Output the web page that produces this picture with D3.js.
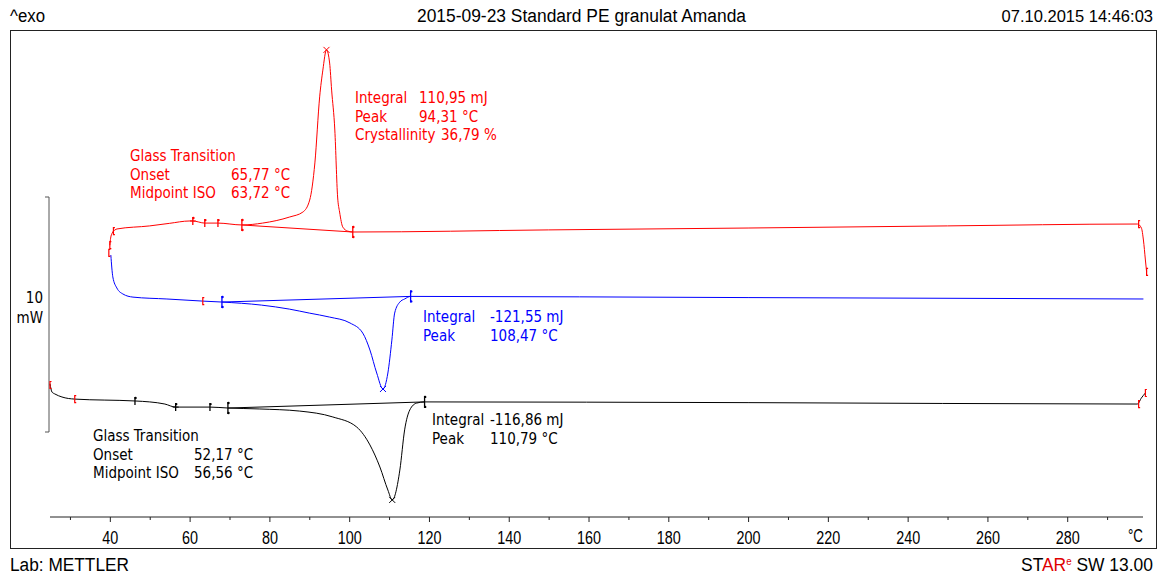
<!DOCTYPE html>
<html>
<head>
<meta charset="utf-8">
<script src="https://cdn.jsdelivr.net/npm/d3@7"></script>
<style>
  html, body { margin: 0; padding: 0; background: #fff; }
  svg { display: block; }
  .ann { font-family: "DejaVu Sans Condensed", "DejaVu Sans", sans-serif; font-stretch: condensed; font-size: 15px; }
  .hdr { font-family: "Liberation Sans", Arial, sans-serif; font-size: 18px; }
</style>
</head>
<body>
<svg id="chart" width="1160" height="575"></svg>
<script>
// Temperature (°C) and heat flow (mW, stacked display offset) for the three DSC segments
const redT  = [40.0, 40.2, 40.6, 41.3, 41.8, 50.0, 55.0, 60.0, 60.8, 63.8, 67.1, 73.1, 78.3, 85.1, 88.4, 90.1, 91.4, 92.6, 93.4, 94.31, 95.1, 95.6, 96.4, 97.1, 97.6, 98.4, 99.6, 100.9, 150, 200, 250, 297.6, 298.6, 299.1, 299.6, 299.9];
const redHF = [7.95, 8.25, 8.47, 8.60, 8.64, 8.77, 8.88, 8.98, 8.98, 8.89, 8.89, 8.81, 8.89, 9.15, 9.36, 9.87, 11.45, 14.26, 15.40, 16.26, 15.70, 14.55, 12.85, 10.00, 9.36, 8.72, 8.55, 8.51, 8.60, 8.68, 8.77, 8.85, 8.68, 8.17, 7.32, 6.81];

const blueT  = [40.25, 40.75, 41.75, 43.3, 45.8, 54.3, 63.3, 68.1, 78.0, 85.0, 90.0, 95.1, 100.2, 103.4, 105.2, 106.9, 108.47, 109.7, 110.7, 111.4, 112.7, 113.9, 115.4, 200, 299.1];
const blueHF = [7.53, 6.60, 6.13, 5.87, 5.74, 5.66, 5.57, 5.53, 5.40, 5.23, 5.06, 4.89, 4.64, 4.21, 3.49, 2.51, 1.83, 2.51, 3.91, 5.06, 5.53, 5.66, 5.77, 5.72, 5.66];

const blackT  = [25.0, 25.5, 26.2, 28.0, 31.2, 46.3, 50.0, 53.8, 56.5, 65.1, 69.6, 77.6, 87.6, 95.9, 101.9, 105.2, 107.7, 109.7, 110.79, 112.7, 113.9, 115.2, 116.9, 118.9, 200, 297.6, 298.6, 299.6];
const blackHF = [2.05, 1.70, 1.62, 1.49, 1.40, 1.32, 1.28, 1.19, 1.06, 1.06, 1.02, 0.98, 0.89, 0.64, 0.21, -0.55, -1.49, -2.47, -2.89, -1.62, 0.09, 0.94, 1.23, 1.28, 1.25, 1.19, 1.45, 1.66];

// Integration baselines [T start, T end] / [HF start, HF end]
const redBaseT = [73.1, 100.9],  redBaseHF = [8.81, 8.51];
const blueBaseT = [68.1, 115.4], blueBaseHF = [5.53, 5.77];
const blackBaseT = [69.6, 118.9], blackBaseHF = [1.02, 1.28];

// Evaluation markers on the curves
const redTicks = [[60.8, 8.98, 1], [63.8, 8.89, 0], [67.1, 8.89, 0], [73.1, 8.81, 2], [100.9, 8.51, 2]];
const blueTicks = [[68.1, 5.53, 2], [115.4, 5.77, 2]];
const blackTicks = [[46.3, 1.32, 0], [56.5, 1.06, 1], [65.1, 1.06, 0], [69.6, 1.02, 2], [118.9, 1.28, 2]];
// Segment limit brackets (always red)
const limitMarks = [[40.0, 7.95], [40.9, 8.55], [39.75, 7.62], [63.3, 5.57], [25.0, 2.0], [31.2, 1.40], [297.9, 8.85], [299.9, 6.81], [297.9, 1.19], [299.6, 1.66]];
// Peak markers
const peaks = [[94.31, 16.26, "red"], [108.47, 1.83, "blue"], [110.79, -2.89, "black"]];

// Axis tick labels
const majorTicks = [40, 60, 80, 100, 120, 140, 160, 180, 200, 220, 240, 260, 280];
const minorTicks = [30, 50, 70, 90, 110, 130, 150, 170, 190, 210, 230, 250, 270, 290];

const svg = d3.select("#chart");
const x = d3.scaleLinear().domain([25, 300]).range([50, 1147]);
const y = d3.scaleLinear().domain([0, 10]).range([432, 197]);

// Outer frame
svg.append("rect").attr("x", 10.5).attr("y", 30.5).attr("width", 1146).attr("height", 518)
  .attr("fill", "none").attr("stroke", "#222").attr("stroke-width", 1);

// Header and footer in a narrow, tall face
function narrowText(sel, w) {
  return sel.attr("textLength", w).attr("lengthAdjust", "spacingAndGlyphs");
}
const hdr = svg.append("g").attr("class", "hdr").attr("fill", "#000");
narrowText(hdr.append("text").attr("x", 10).attr("y", 22).text("^exo"), 35);
narrowText(hdr.append("text").attr("x", 581.5).attr("y", 22).attr("text-anchor", "middle").text("2015-09-23 Standard PE granulat Amanda"), 329);
hdr.append("text").attr("x", 1153).attr("y", 22).attr("text-anchor", "end").attr("font-size", "16.5px").text("07.10.2015 14:46:03");
narrowText(hdr.append("text").attr("x", 10).attr("y", 571).text("Lab: METTLER"), 119);
const star = hdr.append("text").attr("x", 1153).attr("y", 571).attr("text-anchor", "end");
star.append("tspan").text("ST");
star.append("tspan").attr("fill", "#e00000").text("AR");
star.append("tspan").attr("fill", "#e00000").attr("font-size", "10px").attr("dy", -6).text("e");
star.append("tspan").attr("dy", 6).text(" SW 13.00");
narrowText(star, 132);

// X axis
const axisG = svg.append("g").attr("transform", "translate(0,517)");
axisG.append("g")
  .call(d3.axisBottom(x).tickValues(majorTicks).tickSize(5).tickPadding(9).tickSizeOuter(0))
  .call(g => g.select(".domain").remove())
  .call(g => g.selectAll("text").attr("class", "hdr").attr("font-size", null).attr("font-family", null).attr("fill", "#000")
    .each(function (d) { narrowText(d3.select(this), String(d).length * 8); }))
  .call(g => g.selectAll("line").attr("stroke", "#222"));
axisG.append("g")
  .call(d3.axisBottom(x).tickValues(minorTicks).tickSize(3).tickFormat(""))
  .call(g => g.select(".domain").remove())
  .call(g => g.selectAll("line").attr("stroke", "#222"));
axisG.append("line").attr("x1", x(25)).attr("x2", x(299)).attr("y1", 0).attr("y2", 0).attr("stroke", "#222");
narrowText(axisG.append("text").attr("class", "hdr").attr("x", 1128).attr("y", 25).text("°C"), 15);

// Heat-flow scale bar (10 mW)
const bar = svg.append("g").attr("stroke", "#555").attr("fill", "none");
bar.append("path").attr("d", `M45,${y(10)}H${x(25) - 1}V${y(0)}H45`);
svg.append("text").attr("class", "ann").attr("x", 43).attr("y", 303).attr("text-anchor", "end").text("10");
svg.append("text").attr("class", "ann").attr("x", 43).attr("y", 323).attr("text-anchor", "end").text("mW");

const line = d3.line().x(d => x(d[0])).y(d => y(d[1])).curve(d3.curveMonotoneX);
const zip = (a, b) => a.map((v, i) => [v, b[i]]);

function drawCurve(T, HF, baseT, baseHF, color) {
  svg.append("path").attr("d", line(zip(T, HF))).attr("fill", "none").attr("stroke", color).attr("stroke-width", 1);
  svg.append("path").attr("d", d3.line()(zip(baseT, baseHF).map(d => [x(d[0]), y(d[1])])))
    .attr("fill", "none").attr("stroke", color).attr("stroke-width", 1);
}
drawCurve(redT, redHF, redBaseT, redBaseHF, "#ff0000");
drawCurve(blueT, blueHF, blueBaseT, blueBaseHF, "#0000ff");
drawCurve(blackT, blackHF, blackBaseT, blackBaseHF, "#000000");

function drawTicks(list, color) {
  list.forEach(([t, v, kind]) => {
    const cx = x(t), cy = y(v);
    const h = kind === 2 ? 6 : 4;
    const g = svg.append("g").attr("stroke", color).attr("fill", color);
    g.append("line").attr("x1", cx).attr("x2", cx).attr("y1", cy - h).attr("y2", cy + h).attr("stroke-width", 1.3);
    if (kind === 1) g.append("line").attr("x1", cx - 3).attr("x2", cx + 3).attr("y1", cy).attr("y2", cy);
    g.append("circle").attr("cx", cx + 0.6).attr("cy", cy - h + 1).attr("r", 1.2).attr("stroke", "none");
    if (kind === 2) g.append("circle").attr("cx", cx + 0.6).attr("cy", cy + h - 1).attr("r", 1.2).attr("stroke", "none");
  });
}
drawTicks(redTicks, "#ff0000");
drawTicks(blueTicks, "#0000ff");
drawTicks(blackTicks, "#000000");

limitMarks.forEach(([t, v]) => {
  const cx = x(t), cy = y(v);
  svg.append("path").attr("d", `M${cx + 1.5},${cy - 3.5}H${cx}V${cy + 3.5}H${cx + 1.5}`)
    .attr("fill", "none").attr("stroke", "#ff0000").attr("stroke-width", 1.2);
});

peaks.forEach(([t, v, c]) => {
  const cx = x(t), cy = y(v);
  svg.append("path").attr("d", `M${cx - 3},${cy - 3}L${cx + 3},${cy + 3}M${cx - 3},${cy + 3}L${cx + 3},${cy - 3}`)
    .attr("stroke", c).attr("stroke-width", 1);
});

// Evaluation result annotations
const annRed1 = [["Glass Transition", ""], ["Onset", "65,77 °C"], ["Midpoint ISO", "63,72 °C"]];
const annRed2 = [["Integral", "110,95 mJ"], ["Peak", "94,31 °C"], ["Crystallinity", "36,79 %"]];
const annBlue = [["Integral", "-121,55 mJ"], ["Peak", "108,47 °C"]];
const annBlack1 = [["Integral", "-116,86 mJ"], ["Peak", "110,79 °C"]];
const annBlack2 = [["Glass Transition", ""], ["Onset", "52,17 °C"], ["Midpoint ISO", "56,56 °C"]];

function annotate(rows, x0, xv, y0, color, xvLast) {
  const g = svg.append("g").attr("class", "ann").attr("fill", color);
  rows.forEach(([lab, val], i) => {
    g.append("text").attr("x", x0).attr("y", y0 + i * 18.5).text(lab);
    if (val) g.append("text").attr("x", (xvLast && i === rows.length - 1) ? xvLast : xv).attr("y", y0 + i * 18.5).text(val);
  });
}
annotate(annRed1, 130, 231, 161, "#ff0000");
annotate(annRed2, 355, 419, 103, "#ff0000", 441);
annotate(annBlue, 423, 490, 322, "#0000ff");
annotate(annBlack1, 432, 490, 425, "#000000");
annotate(annBlack2, 93, 194, 441, "#000000");
</script>
</body>
</html>
